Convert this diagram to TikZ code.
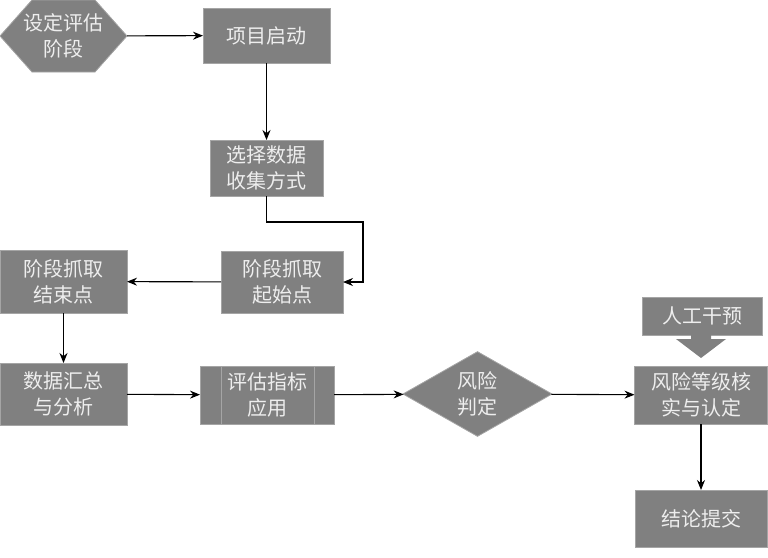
\documentclass[tikz,border=0pt]{standalone}
\usepackage{fontspec}
\newfontfamily\cjk{Noto Sans CJK SC}
\usetikzlibrary{shapes.geometric,arrows.meta,backgrounds}
\definecolor{boxgray}{RGB}{128,128,128}
\definecolor{rimgray}{RGB}{165,165,165}
\definecolor{textgray}{RGB}{238,238,238}

\begin{document}
\begin{tikzpicture}
    [
        x=1pt, y=-1pt,
        block/.style={rectangle, fill=boxgray, draw=rimgray, line width=0.8pt,
            text=textgray, font=\cjk\fontsize{20}{26}\selectfont, align=center,
            inner sep=0pt, outer sep=0pt},
        hexa/.style={block, fill=none, draw=none},
        judge/.style={block, diamond},
        edge/.style={-{Stealth[length=10pt,width=8pt]}, line width=1.1pt},
    ]
    \useasboundingbox (0,0) rectangle (768,557);

    % top row
    \node (phase) at (63.5,36)    [hexa, minimum width=127pt, minimum height=72pt] {设定评估\\阶段};
    \node (start) at (266.5,35.5) [block, minimum width=127pt, minimum height=55pt] {项目启动};
    \node (choose) at (266.5,168) [block, minimum width=113pt, minimum height=56pt] {选择数据\\收集方式};

    % capture points
    \node (begin) at (282,282)    [block, minimum width=122pt, minimum height=62pt] {阶段抓取\\起始点};
    \node (finish) at (63.5,281.5) [block, minimum width=127pt, minimum height=63pt] {阶段抓取\\结束点};
    \coordinate (bend) at (363,222);

    % bottom row
    \node (summary) at (63.5,394) [block, minimum width=127pt, minimum height=62pt] {数据汇总\\与分析};
    \node (apply) at (267,395)    [block, minimum width=134pt, minimum height=58pt] {评估指标\\应用};
    \node (risk) at (477.5,394)   [judge, minimum width=149pt, minimum height=80pt] {风险\\判定};
    \node (verify) at (701,395)   [block, minimum width=133pt, minimum height=58pt] {风险等级核\\实与认定};
    \node (manual) at (702,316)   [block, minimum width=120pt, minimum height=38pt] {人工干预};
    \node (submit) at (701,518.5) [block, minimum width=132pt, minimum height=57pt] {结论提交};

    \begin{scope}[on background layer]
        \filldraw [fill=boxgray, draw=rimgray, line width=0.8pt] (phase.west) -- ([xshift=32pt]phase.north west)
            -- ([xshift=-32pt]phase.north east) -- (phase.east)
            -- ([xshift=-32pt]phase.south east) -- ([xshift=32pt]phase.south west) -- cycle;
    \end{scope}

    \draw [rimgray, line width=0.8pt] ([xshift=21pt]apply.north west) -- ([xshift=21pt]apply.south west);
    \draw [rimgray, line width=0.8pt] ([xshift=-20pt]apply.north east) -- ([xshift=-20pt]apply.south east);

    % block arrow under manual step
    \fill [boxgray] (manual.south) ++(-11,0) -- ++(0,4) -- ++(-15,0) -- ++(25,19)
        -- ++(25,-19) -- ++(-15,0) -- ++(0,-4) -- cycle;

    \draw [edge] (phase) -- (start);
    \draw [edge] (start) -- (choose);
    \draw [edge] (choose.south) |- (bend) |- (begin.east);
    \draw [edge] (begin) -- (finish);
    \draw [edge] (finish) -- (summary);
    \draw [edge] (summary) -- (apply);
    \draw [edge] (apply) -- (risk);
    \draw [edge] (risk) -- (verify);
    \draw [edge] (verify) -- (submit);

\end{tikzpicture}
\end{document}
